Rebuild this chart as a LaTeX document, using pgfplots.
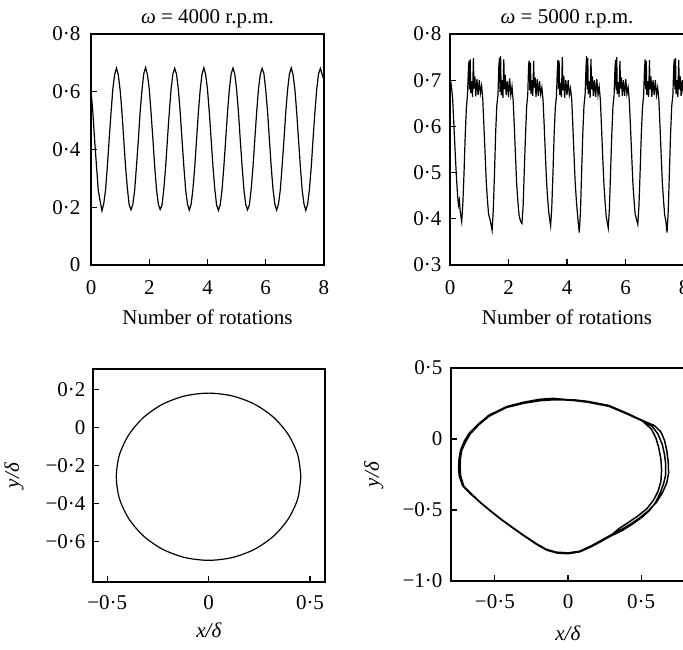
\documentclass[border=0pt]{standalone}
\usepackage{fontspec}
\setmainfont{Liberation Serif}
\usepackage{pgfplots}
\usepackage{pgfplotstable}
\pgfplotsset{compat=1.18}

\pgfplotstableread{
x y
0.0000 0.605
0.0625 0.530
0.1250 0.432
0.1875 0.345
0.2500 0.258
0.3125 0.222
0.3750 0.188
0.4375 0.212
0.5000 0.260
0.5625 0.343
0.6250 0.437
0.6875 0.527
0.7500 0.610
0.8125 0.660
0.8750 0.682
0.9375 0.658
1.0000 0.606
1.0625 0.531
1.1250 0.433
1.1875 0.339
1.2500 0.264
1.3125 0.207
1.3750 0.191
1.4375 0.211
1.5000 0.259
1.5625 0.344
1.6250 0.432
1.6875 0.531
1.7500 0.606
1.8125 0.663
1.8750 0.684
1.9375 0.659
2.0000 0.610
2.0625 0.527
2.1250 0.437
2.1875 0.340
2.2500 0.261
2.3125 0.210
2.3750 0.192
2.4375 0.207
2.5000 0.263
2.5625 0.339
2.6250 0.436
2.6875 0.528
2.7500 0.609
2.8125 0.662
2.8750 0.681
2.9375 0.660
3.0000 0.607
3.0625 0.530
3.1250 0.434
3.1875 0.342
3.2500 0.260
3.3125 0.211
3.3750 0.190
3.4375 0.210
3.5000 0.262
3.5625 0.340
3.6250 0.435
3.6875 0.530
3.7500 0.607
3.8125 0.661
3.8750 0.683
3.9375 0.660
4.0000 0.608
4.0625 0.528
4.1250 0.436
4.1875 0.341
4.2500 0.263
4.3125 0.208
4.3750 0.189
4.4375 0.209
4.5000 0.261
4.5625 0.342
4.6250 0.434
4.6875 0.529
4.7500 0.608
4.8125 0.662
4.8750 0.682
4.9375 0.661
5.0000 0.607
5.0625 0.530
5.1250 0.433
5.1875 0.343
5.2500 0.261
5.3125 0.209
5.3750 0.191
5.4375 0.208
5.5000 0.263
5.5625 0.341
5.6250 0.436
5.6875 0.528
5.7500 0.609
5.8125 0.660
5.8750 0.681
5.9375 0.662
6.0000 0.606
6.0625 0.531
6.1250 0.435
6.1875 0.340
6.2500 0.262
6.3125 0.210
6.3750 0.190
6.4375 0.211
6.5000 0.260
6.5625 0.343
6.6250 0.433
6.6875 0.530
6.7500 0.607
6.8125 0.661
6.8750 0.683
6.9375 0.659
7.0000 0.609
7.0625 0.529
7.1250 0.434
7.1875 0.342
7.2500 0.260
7.3125 0.211
7.3750 0.189
7.4375 0.210
7.5000 0.262
7.5625 0.340
7.6250 0.437
7.6875 0.529
7.7500 0.608
7.8125 0.662
7.8750 0.681
7.9375 0.660
8.0000 0.640
}\tabA

\pgfplotstableread{
x y
0.00 0.700
0.03 0.695
0.06 0.680
0.09 0.660
0.12 0.620
0.15 0.580
0.18 0.540
0.22 0.490
0.26 0.450
0.29 0.430
0.32 0.440
0.35 0.415
0.40 0.394
0.44 0.434
0.48 0.500
0.52 0.580
0.56 0.640
0.60 0.670
0.63 0.725
0.65 0.742
0.67 0.680
0.69 0.745
0.71 0.672
0.74 0.698
0.77 0.664
0.80 0.748
0.82 0.682
0.85 0.708
0.88 0.665
0.92 0.702
0.96 0.668
1.00 0.700
1.04 0.672
1.08 0.688
1.12 0.660
1.16 0.600
1.20 0.540
1.24 0.480
1.28 0.440
1.32 0.410
1.38 0.395
1.44 0.375
1.48 0.420
1.52 0.495
1.56 0.585
1.60 0.645
1.64 0.668
1.67 0.730
1.69 0.748
1.71 0.675
1.73 0.752
1.75 0.668
1.78 0.700
1.81 0.662
1.84 0.745
1.86 0.680
1.89 0.712
1.92 0.668
1.96 0.698
2.00 0.664
2.04 0.704
2.08 0.668
2.12 0.686
2.16 0.655
2.20 0.598
2.24 0.535
2.28 0.475
2.32 0.438
2.36 0.408
2.41 0.395
2.46 0.390
2.50 0.428
2.54 0.505
2.58 0.578
2.62 0.642
2.66 0.672
2.69 0.735
2.71 0.742
2.73 0.678
2.75 0.738
2.77 0.670
2.80 0.700
2.83 0.666
2.86 0.742
2.88 0.684
2.91 0.706
2.94 0.664
2.98 0.702
3.02 0.666
3.06 0.698
3.10 0.670
3.14 0.684
3.18 0.658
3.22 0.602
3.26 0.540
3.30 0.482
3.34 0.442
3.38 0.412
3.44 0.385
3.48 0.425
3.52 0.498
3.56 0.582
3.60 0.640
3.64 0.666
3.67 0.722
3.69 0.744
3.71 0.682
3.73 0.742
3.75 0.668
3.78 0.694
3.81 0.664
3.84 0.750
3.86 0.678
3.89 0.710
3.92 0.662
3.96 0.700
4.00 0.668
4.04 0.700
4.08 0.668
4.12 0.682
4.16 0.660
4.20 0.600
4.24 0.538
4.28 0.478
4.32 0.440
4.36 0.408
4.42 0.370
4.46 0.415
4.50 0.500
4.54 0.585
4.58 0.644
4.62 0.670
4.65 0.728
4.67 0.752
4.69 0.680
4.71 0.748
4.73 0.670
4.76 0.698
4.79 0.662
4.82 0.746
4.84 0.680
4.87 0.708
4.90 0.666
4.94 0.700
4.98 0.664
5.02 0.702
5.06 0.668
5.10 0.686
5.14 0.658
5.18 0.598
5.22 0.536
5.26 0.478
5.30 0.438
5.34 0.405
5.41 0.380
5.45 0.422
5.49 0.502
5.53 0.580
5.57 0.642
5.61 0.668
5.64 0.726
5.66 0.744
5.68 0.678
5.70 0.750
5.72 0.670
5.75 0.696
5.78 0.664
5.81 0.742
5.83 0.682
5.86 0.706
5.89 0.666
5.93 0.700
5.97 0.666
6.01 0.702
6.05 0.670
6.09 0.684
6.13 0.656
6.17 0.600
6.21 0.540
6.25 0.480
6.29 0.442
6.33 0.410
6.38 0.398
6.42 0.388
6.46 0.428
6.50 0.502
6.54 0.582
6.58 0.640
6.62 0.668
6.65 0.724
6.67 0.745
6.69 0.680
6.71 0.742
6.73 0.668
6.76 0.698
6.79 0.664
6.82 0.744
6.84 0.680
6.87 0.708
6.90 0.664
6.94 0.700
6.98 0.668
7.02 0.700
7.06 0.668
7.10 0.684
7.14 0.658
7.18 0.600
7.22 0.538
7.26 0.478
7.30 0.440
7.34 0.408
7.38 0.395
7.42 0.370
7.46 0.415
7.50 0.498
7.54 0.582
7.58 0.644
7.62 0.668
7.65 0.730
7.67 0.745
7.69 0.680
7.71 0.748
7.73 0.670
7.76 0.700
7.79 0.664
7.82 0.744
7.84 0.680
7.87 0.708
7.90 0.666
7.94 0.700
7.98 0.670
8.00 0.690
}\tabB

\pgfplotstableread{
x y
0.455 -0.260
0.440 -0.146
0.394 -0.040
0.322 0.051
0.228 0.121
0.118 0.165
0.000 0.180
-0.118 0.165
-0.228 0.121
-0.322 0.051
-0.394 -0.040
-0.440 -0.146
-0.455 -0.260
-0.440 -0.374
-0.394 -0.480
-0.322 -0.571
-0.228 -0.641
-0.118 -0.685
0.000 -0.700
0.118 -0.685
0.228 -0.641
0.322 -0.571
0.394 -0.480
0.440 -0.374
0.455 -0.260
}\tabC

\pgfplotstableread{
x y
-0.10 0.280
-0.19 0.273
-0.30 0.255
-0.42 0.225
-0.54 0.164
-0.61 0.104
-0.67 0.040
-0.704 -0.017
-0.73 -0.080
-0.739 -0.138
-0.742 -0.200
-0.739 -0.258
-0.716 -0.331
-0.66 -0.390
-0.60 -0.448
-0.53 -0.508
-0.46 -0.565
-0.38 -0.625
-0.30 -0.683
-0.22 -0.738
-0.15 -0.780
-0.08 -0.800
0.00 -0.805
0.08 -0.792
0.16 -0.755
0.23 -0.717
0.30 -0.680
0.37 -0.645
0.44 -0.600
0.51 -0.548
0.56 -0.500
0.60 -0.445
0.63 -0.380
0.655 -0.310
0.668 -0.250
0.668 -0.180
0.66 -0.110
0.645 -0.040
0.615 0.035
0.575 0.090
0.508 0.128
0.40 0.180
0.28 0.232
0.135 0.261
0.04 0.273
-0.10 0.286
-0.19 0.280
-0.30 0.260
-0.42 0.228
-0.54 0.168
-0.61 0.108
-0.675 0.042
-0.71 -0.017
-0.735 -0.080
-0.745 -0.140
-0.748 -0.200
-0.744 -0.258
-0.722 -0.328
-0.665 -0.388
-0.60 -0.446
-0.53 -0.505
-0.46 -0.562
-0.38 -0.622
-0.30 -0.680
-0.22 -0.735
-0.15 -0.776
-0.08 -0.797
0.00 -0.802
0.08 -0.790
0.16 -0.752
0.23 -0.712
0.30 -0.672
0.37 -0.635
0.43 -0.598
0.49 -0.555
0.55 -0.505
0.605 -0.445
0.645 -0.380
0.675 -0.310
0.688 -0.240
0.685 -0.160
0.675 -0.080
0.66 -0.010
0.635 0.050
0.59 0.095
0.51 0.130
0.40 0.183
0.28 0.236
0.135 0.265
0.04 0.276
-0.10 0.276
-0.19 0.270
-0.30 0.252
-0.42 0.222
-0.54 0.160
-0.61 0.100
-0.668 0.036
-0.70 -0.020
-0.727 -0.082
-0.736 -0.140
-0.738 -0.200
-0.734 -0.260
-0.712 -0.334
-0.655 -0.392
-0.595 -0.450
-0.525 -0.510
-0.455 -0.568
-0.375 -0.628
-0.295 -0.686
-0.215 -0.742
-0.145 -0.783
-0.075 -0.803
0.00 -0.808
0.08 -0.795
0.16 -0.758
0.23 -0.720
0.29 -0.682
0.35 -0.630
0.41 -0.590
0.48 -0.540
0.54 -0.490
0.585 -0.430
0.615 -0.370
0.635 -0.300
0.64 -0.220
0.635 -0.140
0.62 -0.060
0.60 0.010
0.57 0.070
0.51 0.126
0.40 0.178
0.28 0.230
0.135 0.259
0.04 0.271
-0.10 0.280
}\tabD

\newcommand{\bigf}{\fontsize{21}{25}\selectfont}

\pgfplotsset{
  myax/.style={
    scale only axis,
    anchor=south west,
    tick pos=left,
    tick align=inside,
    major tick length=6pt,
    axis line style={line width=1.6pt},
    every tick/.style={line width=1.1pt, black},
    tick label style={font=\bigf},
    label style={font=\bigf},
    title style={font=\bigf},
    every axis title shift=0pt,
    /pgf/number format/assume math mode=true,
  }
}

\begin{document}
\begin{tikzpicture}
\useasboundingbox (0,0) rectangle (683pt,650pt);
\clip (0,0) rectangle (683pt,650pt);

% top left
\begin{axis}[myax, at={(91pt,385pt)}, width=233pt, height=231pt,
  xmin=0, xmax=8, ymin=0, ymax=0.8,
  xtick={0,2,4,6,8}, xticklabels={0,2,4,6,8},
  ytick={0,0.2,0.4,0.6,0.8}, yticklabels={0,0·2,0·4,0·6,0·8},
  xticklabel style={yshift=-12pt}, yticklabel style={xshift=-7pt},
  title={\textit{ω} = 4000 r.p.m.},
  title style={at={(axis description cs:0.5,1.065)}, anchor=center},
  xlabel={Number of rotations},
  xlabel style={at={(axis description cs:0.5,-0.225)}, anchor=center}]
\addplot[black, no markers, line width=1.2pt] table[x=x,y=y] {\tabA};
\end{axis}

% top right
\begin{axis}[myax, at={(450pt,385pt)}, width=234pt, height=231pt,
  xmin=0, xmax=8, ymin=0.3, ymax=0.8,
  xtick={0,2,4,6,8}, xticklabels={0,2,4,6,8},
  ytick={0.3,0.4,0.5,0.6,0.7,0.8}, yticklabels={0·3,0·4,0·5,0·6,0·7,0·8},
  xticklabel style={yshift=-12pt}, yticklabel style={xshift=-5pt},
  title={\textit{ω} = 5000 r.p.m.},
  title style={at={(axis description cs:0.5,1.065)}, anchor=center},
  xlabel={Number of rotations},
  xlabel style={at={(axis description cs:0.5,-0.225)}, anchor=center}]
\addplot[black, no markers, line width=1.2pt] table[x=x,y=y] {\tabB};
\end{axis}

% bottom left
\begin{axis}[myax, at={(93pt,68pt)}, width=232pt, height=213pt,
  xmin=-0.57, xmax=0.574, ymin=-0.814, ymax=0.307,
  xtick={-0.5,0,0.5}, xticklabels={−0·5,0,0·5},
  ytick={-0.6,-0.4,-0.2,0,0.2}, yticklabels={−0·6,−0·4,−0·2,0,0·2},
  xticklabel style={yshift=-10pt}, yticklabel style={xshift=-4pt},
  xlabel={\textit{x/δ}},
  xlabel style={at={(axis description cs:0.5,-0.225)}, anchor=center},
  ylabel={\textit{y/δ}},
  ylabel style={at={(axis description cs:-0.34,0.5)}, anchor=center}]
\addplot[black, no markers, smooth, line width=1.2pt] table[x=x,y=y] {\tabC};
\end{axis}

% bottom right
\begin{axis}[myax, at={(451pt,69pt)}, width=234pt, height=213pt,
  xmin=-0.8, xmax=0.8, ymin=-1, ymax=0.5,
  xtick={-0.5,0,0.5}, xticklabels={−0·5,0,0·5},
  ytick={-1,-0.5,0,0.5}, yticklabels={−1·0,−0·5,0,0·5},
  xticklabel style={yshift=-10pt}, yticklabel style={xshift=-5pt},
  xlabel={\textit{x/δ}},
  xlabel style={at={(axis description cs:0.5,-0.244)}, anchor=center},
  ylabel={\textit{y/δ}},
  ylabel style={at={(axis description cs:-0.33,0.5)}, anchor=center}]
\addplot[black, no markers, line width=1.5pt] table[x=x,y=y] {\tabD};
\end{axis}
\end{tikzpicture}
\end{document}
